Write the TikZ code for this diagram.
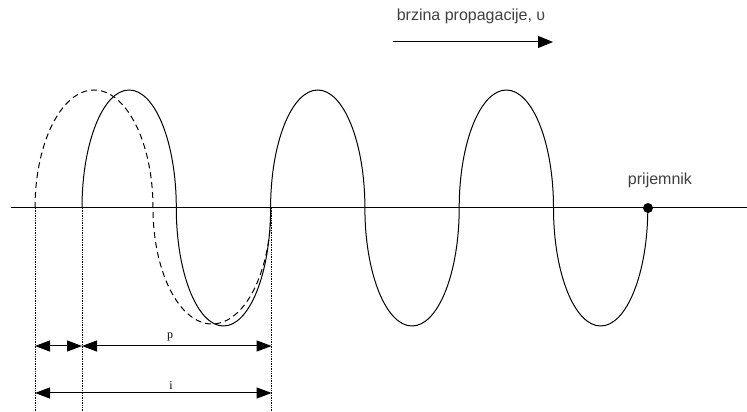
\documentclass[tikz,border=0pt]{standalone}
\usepackage{fontspec}
\newfontfamily\sansfont{Liberation Sans}
\newfontfamily\seriffont{Liberation Serif}
\usetikzlibrary{arrows.meta}

\begin{document}
\begin{tikzpicture}[x=1pt, y=1pt,
    wave/.style={line width=1pt},
    guide/.style={densely dotted, line width=0.7pt},
    dim/.style={{Triangle[length=15pt,width=11pt]}-{Triangle[length=15pt,width=11pt]}, line width=1pt},
    txt/.style={font=\sansfont\fontsize{16}{18}\selectfont, text=black!75, inner sep=0pt},
    lbl/.style={font=\seriffont\fontsize{12}{14}\selectfont, inner sep=0pt}]
    \useasboundingbox (0, 0) rectangle (747, 412);

    % Half period and amplitude of the wave
    \def\hp{94.3}
    \def\amp{118}

    % Axis
    \draw[wave] (11, 204) -- (747, 204);

    % Solid wave, from the source to the receiver
    \foreach \k in {0, 1, 2} {
        \draw[wave] (82 + 2 * \k * \hp, 204)
            arc[start angle=180, end angle=0, x radius=\hp/2, y radius=\amp]
            arc[start angle=180, end angle=360, x radius=\hp/2, y radius=\amp];
    }

    % Dashed wave (longer wavelength)
    \draw[wave, dash pattern=on 6pt off 4pt] (35, 204)
        arc[start angle=180, end angle=0, x radius=59, y radius=\amp]
        arc[start angle=180, end angle=360, x radius=59, y radius=116];

    % Receiver
    \node[circle, fill, inner sep=0pt, minimum size=10pt] (rec) at (648, 204) {};
    \node[txt] (recl) at (660, 232) {prijemnik};

    % Direction of propagation
    \node[txt] (prop) at (471, 396) {brzina propagacije, υ};
    \coordinate (u1) at (393, 370);
    \coordinate (u2) at (553, 370);
    \draw[-{Triangle[length=15pt,width=12pt]}, line width=1pt] (u1) -- (u2);

    % Guide lines
    \coordinate (g1) at (35, 204);
    \coordinate (g2) at (82, 204);
    \coordinate (g3) at (271.6, 204);
    \coordinate (h1) at (35, 0);
    \coordinate (h2) at (82, 0);
    \coordinate (h3) at (271.6, 0);
    \draw[guide] (g1) -- (h1);
    \draw[guide] (g2) -- (h2);
    \draw[guide] (g3) -- (h3);

    % Dimension arrows
    \coordinate (a1) at (35, 66);
    \coordinate (a2) at (82, 66);
    \coordinate (a3) at (271.6, 66);
    \coordinate (b1) at (35, 19);
    \coordinate (b3) at (271.6, 19);
    \draw[dim] (a1) -- (a2);
    \draw[dim] (a2) -- (a3);
    \draw[dim] (b1) -- (b3);
    \node[lbl] (p) at (170, 75) {p};
    \node[lbl] (i) at (171, 26) {i};
\end{tikzpicture}
\end{document}
